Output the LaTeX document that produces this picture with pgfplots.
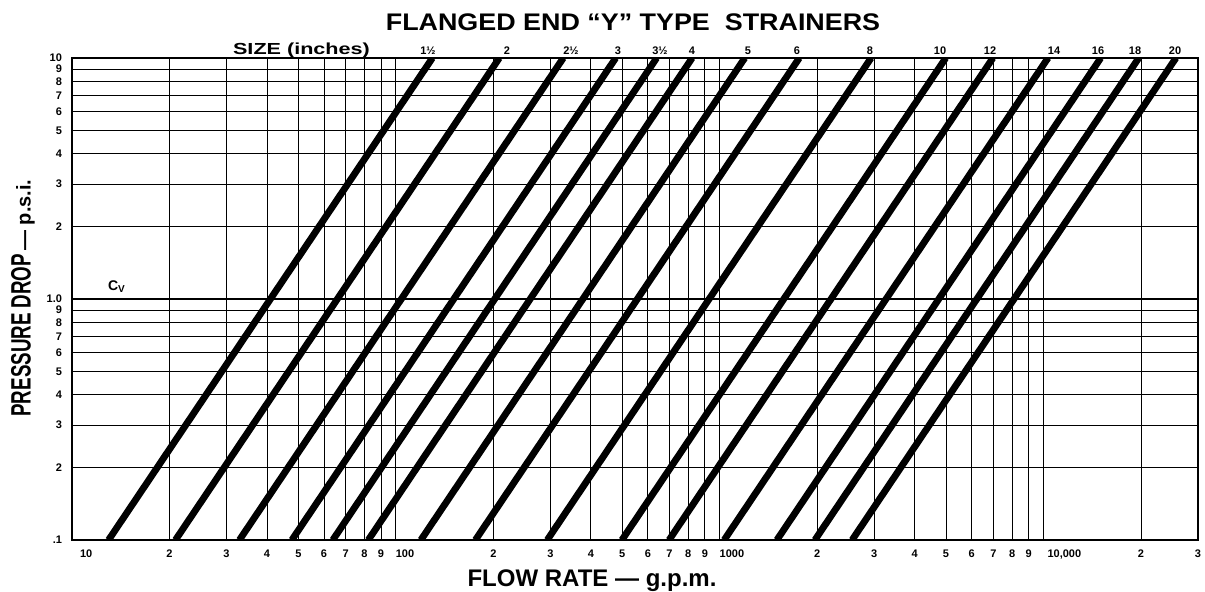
\documentclass[border=0pt]{standalone}
\usepackage{fontspec}
\setmainfont{Liberation Sans}
\usepackage{pgfplots}
\pgfplotsset{compat=1.18}
\usepackage{graphicx}

\begin{document}
\begin{tikzpicture}
\useasboundingbox (-36pt,-26pt) rectangle (566.5pt,270pt);
\begin{axis}[
  at={(0pt,0pt)}, anchor=south west,
  scale only axis, width=563pt, height=241pt,
  xmode=log, ymode=log,
  xmin=10, xmax=30000, ymin=0.1, ymax=10,
  xtick={10,20,30,40,50,60,70,80,90,100,200,300,400,500,600,700,800,900,1000,2000,3000,4000,5000,6000,7000,8000,9000,10000,20000,30000},
  xticklabels={\rlap{\hspace{4pt}10},2,3,4,5,6,7,8,9,\rlap{100},2,3,4,5,6,7,8,9,\rlap{1000},2,3,4,5,6,7,8,9,\rlap{\hspace{2pt}10,000},2,3},
  ytick={0.1,0.2,0.3,0.4,0.5,0.6,0.7,0.8,0.9,1,2,3,4,5,6,7,8,9,10},
  yticklabels={.1,2,3,4,5,6,7,8,9,1.0,2,3,4,5,6,7,8,9,10},
  major tick length=0pt,
  grid=major,
  grid style={black, line width=0.45pt},
  axis line style={line width=1.1pt},
  tick label style={font=\fontsize{5.5}{6}\selectfont\bfseries},
  xticklabel style={yshift=-1.5pt},
  yticklabel style={xshift=-1.5pt},
]
% C_v line
\addplot[black, line width=1.4pt] coordinates {(10,1) (30000,1)};
% strainer sizes: 1 1/2, 2, 2 1/2, 3, 3 1/2, 4, 5, 6, 8, 10, 12, 14, 16, 18, 20
\addplot[black, line width=3.4pt] coordinates {(12.97,0.1) (41,1) (129.7,10)};
\addplot[black, line width=3.4pt] coordinates {(20.87,0.1) (66,1) (208.7,10)};
\addplot[black, line width=3.4pt] coordinates {(32.89,0.1) (104,1) (328.9,10)};
\addplot[black, line width=3.4pt] coordinates {(47.75,0.1) (151,1) (477.5,10)};
\addplot[black, line width=3.4pt] coordinates {(63.88,0.1) (202,1) (638.8,10)};
\addplot[black, line width=3.4pt] coordinates {(82.22,0.1) (260,1) (822.2,10)};
\addplot[black, line width=3.4pt] coordinates {(119.5,0.1) (378,1) (1195.3,10)};
\addplot[black, line width=3.4pt] coordinates {(176.1,0.1) (557,1) (1761.4,10)};
\addplot[black, line width=3.4pt] coordinates {(293.5,0.1) (928,1) (2934.6,10)};
\addplot[black, line width=3.4pt] coordinates {(499.0,0.1) (1578,1) (4990,10)};
\addplot[black, line width=3.4pt] coordinates {(697.9,0.1) (2207,1) (6979,10)};
\addplot[black, line width=3.4pt] coordinates {(1032.5,0.1) (3265,1) (10325,10)};
\addplot[black, line width=3.4pt] coordinates {(1502.1,0.1) (4750,1) (15021,10)};
\addplot[black, line width=3.4pt] coordinates {(1968.5,0.1) (6225,1) (19685,10)};
\addplot[black, line width=3.4pt] coordinates {(2564,0.1) (8108,1) (25640,10)};
\end{axis}
% title
\node at (280.5pt,259pt) {\scalebox{1.12}[1]{\fontsize{12}{12}\selectfont\bfseries FLANGED END “Y” TYPE\ \ STRAINERS}};
% size header
\node at (114.75pt,245pt) {\scalebox{1.35}[1]{\fontsize{8}{8}\selectfont\bfseries SIZE (inches)}};
\begin{scope}[every node/.style={font=\fontsize{5.5}{6}\selectfont\bfseries, inner sep=0pt}]
\node at (178pt,244.5pt) {1½};
\node at (217.5pt,244.5pt) {2};
\node at (249.5pt,244.5pt) {2½};
\node at (273pt,244.5pt) {3};
\node at (294pt,244.5pt) {3½};
\node at (310pt,244.5pt) {4};
\node at (338pt,244.5pt) {5};
\node at (362.5pt,244.5pt) {6};
\node at (399pt,244.5pt) {8};
\node at (434pt,244.5pt) {10};
\node at (459pt,244.5pt) {12};
\node at (491pt,244.5pt) {14};
\node at (513pt,244.5pt) {16};
\node at (531.5pt,244.5pt) {18};
\node at (551.5pt,244.5pt) {20};
\end{scope}
% Cv
\node at (22.5pt,126.5pt) {\fontsize{7}{7}\selectfont\bfseries C\textsubscript{V}};
% y label
\node[rotate=90] at (-24.5pt,121pt) {\scalebox{0.67}[1]{\fontsize{14}{14}\selectfont\bfseries PRESSURE DROP}\,{\fontsize{10}{10}\selectfont\bfseries — p.s.i.}};
% x label
\node at (260pt,-20.5pt) {\fontsize{12}{12}\selectfont\bfseries FLOW RATE — g.p.m.};
\end{tikzpicture}
\end{document}
